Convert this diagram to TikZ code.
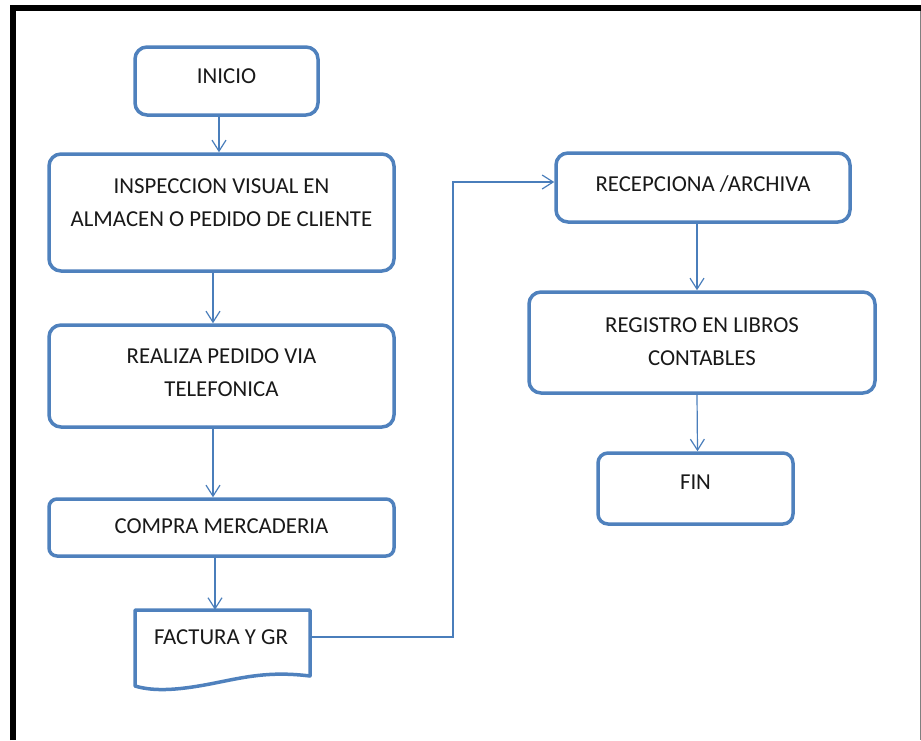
\documentclass[tikz,border=0pt]{standalone}
\usepackage{fontspec}
\setmainfont{Carlito}
\usetikzlibrary{arrows.meta}
\definecolor{boxblue}{HTML}{4F81BD}
\definecolor{lineblue}{HTML}{4A7EBB}
\tikzset{
  box/.style={draw=boxblue, line width=3.5pt, rounded corners=12pt, fill=white, inner sep=0pt},
  txt/.style={font=\fontsize{22.8}{33}\selectfont, align=center, inner sep=0pt, text=black!90},
  arr/.style={draw=lineblue, line width=1.2pt, -{Straight Barb[length=11pt,width=14pt,line width=1.2pt]}},
}
\begin{document}
\begin{tikzpicture}[x=1pt,y=-1pt]
\useasboundingbox (0,0) rectangle (921,740);
% frame
\draw[line width=6pt, line cap=butt] (13,740) -- (13,8) -- (921,8);
\draw[gray, line width=1pt] (920,11) -- (920,740);

% boxes
\node[box, minimum width=183pt, minimum height=68pt] (inicio) at (226.5,81) {};
\node[txt] (tinicio) at (226.5,76) {INICIO};

\node[box, minimum width=345pt, minimum height=117pt] (insp) at (221.5,212.5) {};
\node[txt] (tinsp) at (221.5,202.5) {INSPECCION VISUAL EN\\ALMACEN O PEDIDO DE CLIENTE};

\node[box, minimum width=345pt, minimum height=102pt] (real) at (221.5,376) {};
\node[txt] (treal) at (221.5,373) {REALIZA PEDIDO VIA\\TELEFONICA};

\node[box, rounded corners=8pt, minimum width=345pt, minimum height=57pt] (compra) at (221.5,527.5) {};
\node[txt] (tcompra) at (221.5,526) {COMPRA MERCADERIA};

% document shape
\node[draw=none, minimum width=175pt, minimum height=76pt, inner sep=0pt] (factura) at (222.5,648) {};
\draw[draw=boxblue, line width=3.5pt, line join=round, fill=white]
  (135,686) -- (135,610) -- (310,610) -- (310,676)
  .. controls (270,671) and (245,677) .. (215,683)
  .. controls (180,690) and (155,692) .. (135,686) -- cycle;
\node[txt] (tfactura) at (221,637) {FACTURA Y GR};

\node[box, minimum width=294pt, minimum height=69pt] (recep) at (703,187.5) {};
\node[txt] (trecep) at (703,184) {RECEPCIONA /ARCHIVA};

\node[box, minimum width=346pt, minimum height=101pt] (reg) at (702,342.5) {};
\node[txt] (treg) at (702,341.5) {REGISTRO EN LIBROS\\CONTABLES};

\node[box, rounded corners=10pt, minimum width=195pt, minimum height=71pt] (fin) at (695.5,488.5) {};
\node[txt] (tfin) at (695.5,482) {FIN};

% connectors
\draw[arr] ([xshift=-7.5pt]inicio.south) -- ([xshift=-2.5pt]insp.north);
\draw[arr] ([xshift=-8.5pt]insp.south) -- ([xshift=-8.5pt]real.north);
\draw[arr] ([xshift=-8.5pt]real.south) -- ([xshift=-8.5pt]compra.north);
\draw[arr] ([xshift=-6.5pt]compra.south) -- ([xshift=-7.5pt]factura.north);
\coordinate (fout) at ([yshift=11pt]factura.east);
\coordinate (rin) at ([yshift=5.5pt]recep.west);
\coordinate (bend) at (453,0);
\draw[arr] (fout) -- (bend |- fout) -- (bend |- rin) -- (rin);
\draw[arr] ([xshift=-6pt]recep.south) -- ([xshift=-5pt]reg.north);
\draw[arr] ([xshift=-5pt]reg.south) -- ([xshift=2pt]fin.north);
\end{tikzpicture}
\end{document}
